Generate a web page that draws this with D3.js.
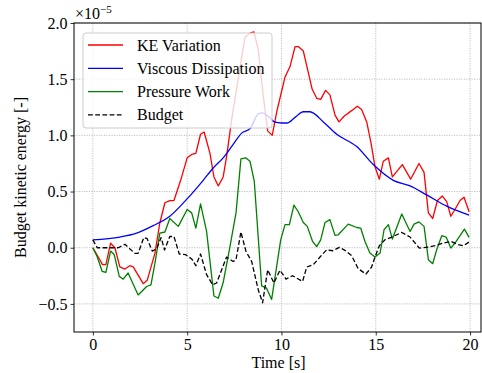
<!DOCTYPE html>
<html>
<head>
<meta charset="utf-8">
<script src="https://cdn.jsdelivr.net/npm/d3@7"></script>
<style>
  body { margin: 0; background: #fff; }
</style>
</head>
<body>
<svg></svg>
<script>
// values are in units of 1e-5, as [time (s), value]
const keVariation = [[0,0],[0.28,-0.08],[0.51,-0.15],[0.69,-0.15],[0.94,0.04],[1.17,0.0],[1.43,-0.17],[1.70,-0.19],[1.96,-0.16],[2.14,-0.17],[2.67,-0.32],[2.88,-0.29],[3.29,-0.05],[3.55,0.22],[3.82,0.40],[4.08,0.42],[4.30,0.42],[4.71,0.63],[5.0,0.80],[5.24,0.83],[5.46,0.84],[5.71,1.01],[5.90,1.03],[6.21,0.84],[6.42,0.63],[6.65,0.55],[6.91,0.63],[7.09,0.81],[7.36,1.14],[8.06,1.87],[8.33,1.91],[8.54,1.92],[8.77,1.76],[9.03,1.36],[9.27,1.04],[9.51,1.0],[9.75,1.21],[10.19,1.52],[10.45,1.61],[10.72,1.79],[10.89,1.79],[11.16,1.75],[11.63,1.41],[11.87,1.33],[12.08,1.32],[12.34,1.40],[12.57,1.36],[12.84,1.18],[13.05,1.12],[13.32,1.17],[13.72,1.22],[14.02,1.26],[14.25,1.23],[14.52,1.12],[14.75,0.93],[14.96,0.72],[15.19,0.61],[15.40,0.77],[15.67,0.80],[15.88,0.63],[16.41,0.74],[16.85,0.61],[17.29,0.75],[17.56,0.67],[17.79,0.31],[18.02,0.26],[18.27,0.42],[18.53,0.46],[18.76,0.41],[18.98,0.28],[19.2,0.34],[19.47,0.42],[19.68,0.45],[19.95,0.32]];

const viscousDissipation = [[0,0.07],[1.43,0.095],[2.32,0.13],[3.2,0.196],[4.08,0.28],[4.97,0.43],[5.85,0.6],[6.38,0.71],[6.91,0.8],[7.44,0.92],[7.89,1.02],[8.33,1.06],[8.77,1.19],[8.98,1.2],[9.3,1.17],[9.62,1.12],[10.0,1.11],[10.3,1.11],[10.72,1.16],[11.16,1.21],[11.51,1.21],[12.22,1.12],[12.93,1.01],[13.99,0.9],[14.87,0.74],[15.93,0.6],[16.82,0.55],[17.7,0.47],[18.76,0.37],[19.95,0.29]];

const pressureWork = [[0,0],[0.23,-0.08],[0.49,-0.21],[0.69,-0.22],[0.94,-0.03],[1.13,-0.06],[1.4,-0.255],[1.61,-0.28],[1.87,-0.225],[2.4,-0.42],[2.64,-0.38],[2.85,-0.345],[3.08,-0.33],[3.29,-0.14],[3.55,0.13],[3.82,0.14],[4.08,0.26],[4.53,0.19],[5.0,0.34],[5.24,0.31],[5.46,0.175],[5.71,0.39],[6.03,0.145],[6.42,-0.43],[6.65,-0.45],[6.91,-0.31],[7.27,0.01],[7.59,0.31],[7.85,0.79],[8.1,0.8],[8.33,0.77],[8.56,0.59],[8.95,-0.34],[9.21,-0.36],[9.48,-0.46],[9.96,0.07],[10.19,0.205],[10.42,0.205],[10.66,0.38],[10.89,0.32],[11.16,0.225],[11.37,0.19],[11.65,0.056],[11.87,0.01],[12.08,0.07],[12.31,0.225],[12.57,0.25],[12.84,0.11],[13.01,0.115],[13.54,0.21],[13.99,0.18],[14.2,0.175],[14.43,0.056],[14.69,-0.047],[14.96,-0.083],[15.23,-0.047],[15.44,0.16],[15.67,0.205],[15.88,0.077],[16.38,0.3],[16.82,0.145],[17.03,0.21],[17.29,0.23],[17.56,0.19],[17.79,-0.107],[18.02,-0.142],[18.23,-0.018],[18.5,0.107],[18.73,0.095],[18.98,-0.003],[19.2,0.042],[19.47,0.107],[19.7,0.166],[19.95,0.092]];

const budget = [[0,0.07],[0.23,0.0],[0.9,0.0],[1.34,0.0],[1.7,0.03],[2.23,-0.05],[2.4,-0.05],[2.7,0.09],[2.88,0.08],[3.15,-0.03],[3.38,-0.01],[3.62,0.09],[3.8,-0.02],[4.08,0.1],[4.3,0.1],[4.58,-0.056],[4.92,-0.062],[5.24,-0.1],[5.46,-0.16],[5.71,-0.056],[6.03,-0.24],[6.35,-0.33],[6.56,-0.314],[7.09,-0.083],[7.44,-0.122],[7.59,-0.107],[7.85,0.14],[8.12,-0.033],[8.42,-0.122],[8.77,-0.374],[9.0,-0.49],[9.27,-0.196],[9.6,-0.314],[9.92,-0.2],[10.24,-0.279],[10.59,-0.249],[10.8,-0.27],[11.12,-0.3],[11.34,-0.172],[11.69,-0.151],[12.04,-0.083],[12.4,-0.018],[12.72,-0.027],[13.07,0.003],[13.37,-0.024],[13.72,-0.071],[14.07,-0.187],[14.48,-0.234],[14.78,-0.172],[14.96,-0.083],[15.19,0.018],[15.49,0.071],[15.85,0.095],[16.38,0.136],[16.82,0.095],[17.31,-0.003],[17.79,0.006],[18.14,0.018],[18.58,0.042],[18.99,0.056],[19.38,0.027],[19.65,0.018],[19.95,0.051]];

const xTicks = [0, 5, 10, 15, 20];
const yTicks = [-0.5, 0, 0.5, 1.0, 1.5, 2.0];
const seriesNames = ['KE Variation', 'Viscous Dissipation', 'Pressure Work', 'Budget'];
const seriesColors = ['#ff0000', '#0000ff', '#008000', '#000000'];

const font = '"Liberation Serif", "Times New Roman", serif';
const size = {w: 482, h: 373};
const plot = {l: 74, r: 481, t: 23, b: 332};
const svg = d3.select('svg').attr('width', size.w).attr('height', size.h)
    .attr('font-family', font);

const x = d3.scaleLinear().domain([-1, 20.58]).range([plot.l, plot.r]);
const y = d3.scaleLinear().domain([-0.75, 2.0]).range([plot.b, plot.t]);

// grid
const gridG = svg.append('g');
gridG.selectAll('line.vx').data(xTicks).join('line')
    .attr('x1', d => x(d)).attr('x2', d => x(d))
    .attr('y1', plot.t).attr('y2', plot.b);
gridG.selectAll('line.hy').data(yTicks).join('line')
    .attr('x1', plot.l).attr('x2', plot.r)
    .attr('y1', d => y(d)).attr('y2', d => y(d));
gridG.selectAll('line')
    .attr('stroke', '#b0b0b0').attr('stroke-width', 0.8)
    .attr('stroke-dasharray', '1.2,1.3');

// clip for lines
svg.append('clipPath').attr('id', 'clip').append('rect')
    .attr('x', plot.l).attr('y', plot.t)
    .attr('width', plot.r - plot.l).attr('height', plot.b - plot.t);

const line = d3.line().x(d => x(d[0])).y(d => y(d[1]));
const smooth = d3.line().x(d => x(d[0])).y(d => y(d[1])).curve(d3.curveMonotoneX);

const linesG = svg.append('g').attr('clip-path', 'url(#clip)');
const allSeries = [keVariation, viscousDissipation, pressureWork, budget];
allSeries.forEach((s, i) => {
    linesG.append('path')
        .datum(s)
        .attr('d', i === 1 ? smooth : line)
        .attr('fill', 'none')
        .attr('stroke', seriesColors[i])
        .attr('stroke-width', 1.3)
        .attr('stroke-linejoin', 'round')
        .attr('stroke-dasharray', i === 3 ? '4.8,2.4' : null);
});

// axes
const fmt = d => d3.format('.1f')(d).replace('-', '\u2212');
const xAxis = svg.append('g').attr('transform', `translate(0,${plot.b})`)
    .call(d3.axisBottom(x).tickValues(xTicks).tickSize(3.5).tickPadding(3).tickFormat(d3.format('d')));
const yAxis = svg.append('g').attr('transform', `translate(${plot.l},0)`)
    .call(d3.axisLeft(y).tickValues(yTicks).tickSize(3.5).tickPadding(3).tickFormat(fmt));
[xAxis, yAxis].forEach(a => {
    a.select('.domain').remove();
    a.attr('font-family', font).attr('font-size', 16);
    a.selectAll('.tick line').attr('stroke', '#000').attr('stroke-width', 0.8);
    a.selectAll('.tick text').attr('fill', '#000');
});

// spines
svg.append('rect')
    .attr('x', plot.l).attr('y', plot.t)
    .attr('width', plot.r - plot.l).attr('height', plot.b - plot.t)
    .attr('fill', 'none').attr('stroke', '#000').attr('stroke-width', 1);

// offset text
const off = svg.append('text').attr('x', plot.l + 1).attr('y', 19).attr('font-size', 16);
off.append('tspan').text('\u00d710');
off.append('tspan').attr('font-size', 11).attr('dy', -6).text('\u22125');

// axis labels
svg.append('text')
    .attr('x', (plot.l + plot.r) / 2 + 1).attr('y', 368)
    .attr('text-anchor', 'middle').attr('font-size', 16)
    .text('Time [s]');
svg.append('text')
    .attr('transform', `translate(26,${(plot.t + plot.b) / 2}) rotate(-90)`)
    .attr('text-anchor', 'middle').attr('font-size', 16)
    .text('Budget kinetic energy [-]');

// legend
const legendG = svg.append('g').attr('transform', 'translate(83,33)');
legendG.append('rect')
    .attr('width', 189).attr('height', 95).attr('rx', 3)
    .attr('fill', 'white').attr('fill-opacity', 0.8)
    .attr('stroke', '#cccccc').attr('stroke-width', 1);
seriesNames.forEach((name, i) => {
    const row = legendG.append('g').attr('transform', `translate(0,${12 + i * 23.3})`);
    row.append('line')
        .attr('x1', 5).attr('x2', 40)
        .attr('stroke', seriesColors[i]).attr('stroke-width', 1.3)
        .attr('stroke-dasharray', i === 3 ? '4.8,2.4' : null);
    row.append('text')
        .attr('x', 54).attr('y', 5.5).attr('font-size', 16)
        .text(name);
});
</script>
</body>
</html>
